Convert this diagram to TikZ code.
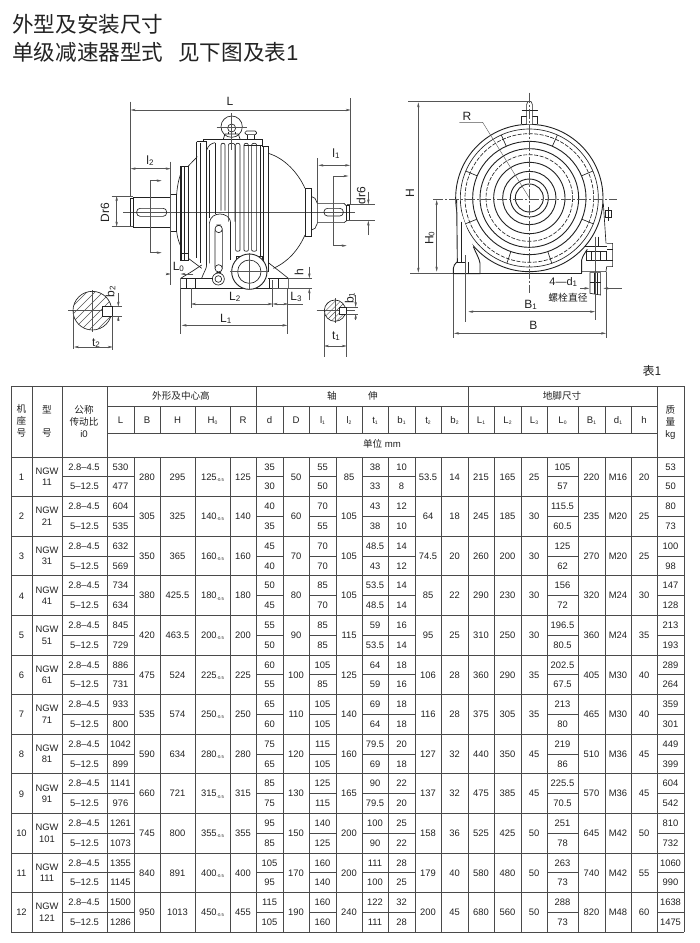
\documentclass[tikz,border=0pt]{standalone}
\usepackage{fontspec}
\setmainfont{Liberation Sans}
\newfontfamily\cjk{Noto Sans CJK SC}
\usetikzlibrary{arrows.meta}
\definecolor{ink}{HTML}{222222}
\definecolor{grid}{HTML}{4A4A4A}
\definecolor{thin}{HTML}{555555}
\newcommand\lowsub[1]{\raisebox{-1.2pt}{\fontsize{5}{5}\selectfont #1}}
\newcommand\tinysub[1]{\raisebox{-1.2pt}{\fontsize{4.2}{5}\selectfont #1}}
\newcommand\dimsub[1]{\raisebox{-1pt}{\fontsize{8}{8}\selectfont #1}}
\newcommand\twocol[4]{%
  \pgfmathsetmacro\xx{(#2+#3)/2}%
  \foreach \v [count=\i] in {#4}{%
    \pgfmathsetmacro\yy{457+(\i-1)*19.8+9.9}%
    \node[cell] (#1-\i) at (\xx,\yy) {\v};}}
\newcommand\onecol[4]{%
  \pgfmathsetmacro\xx{(#2+#3)/2}%
  \foreach \v [count=\i] in {#4}{%
    \pgfmathsetmacro\yy{457+(\i-1)*39.6+19.8}%
    \node[cell] (#1-\i) at (\xx,\yy) {\v};}}
\tikzset{
  cell/.style={inner sep=0pt,text=ink,text depth=0pt,font=\fontsize{9.4}{10}\selectfont},
  hdr/.style={inner sep=0pt,text=ink,text height=7pt,text depth=0pt,font=\fontsize{9.6}{10}\selectfont},
  chdr/.style={inner sep=0pt,text=ink,font=\cjk\fontsize{9.6}{10}\selectfont},
  dimlab/.style={inner sep=0pt,text=ink,text depth=0pt,font=\fontsize{12}{12}\selectfont},
  dimline/.style={draw=thin,line width=.4pt},
  darr/.style={dimline,{Stealth[length=5pt,width=2.4pt]}-{Stealth[length=5pt,width=2.4pt]}},
  oarr/.style={dimline,-{Stealth[length=5pt,width=2.4pt]}},
  body/.style={draw=ink,line width=.65pt},
  bodyh/.style={draw=ink,line width=.9pt},
  centre/.style={draw=thin,line width=.4pt},
  gridl/.style={draw=grid,line width=.8pt},
  titletxt/.style={inner sep=0pt,anchor=west,text=ink,font=\cjk\fontsize{21.6}{22}\selectfont},
}
\begin{document}
\begin{tikzpicture}[x=1pt,y=-1pt]
\useasboundingbox (0,0) rectangle (700,943);
\fill[white] (0,0) rectangle (700,943);
% ---- titles
\node[titletxt] (t1) at (12,24) {外型及安装尺寸};
\node[titletxt] (t2) at (12,52) {单级减速器型式\hspace{15pt}见下图及表{\fontspec{Liberation Sans}1}};
\node[inner sep=0pt,text=ink,font=\cjk\fontsize{12}{12}\selectfont] (t3) at (652,371) {表1};
% ---- table rules
\foreach \x in {11,32,62,107,134,160,195,230,256,283,309,336,362,388,415,441,468,494,521,547,578,605,631,657,684}
  \draw[gridl] (\x,406) -- (\x,932);
\foreach \x in {11,32,62,107,256,468,657,684} \draw[gridl] (\x,386) -- (\x,406);
\draw[gridl] (11,386) -- (684,386);
\draw[gridl] (107,406) -- (657,406);
\draw[gridl] (107,433) -- (657,433);
\foreach \i in {0,...,12}{\pgfmathsetmacro\yy{457+\i*39.6}\draw[gridl] (11,\yy) -- (684,\yy);}
\foreach \i in {0,...,11}{\pgfmathsetmacro\yy{457+\i*39.6+19.8}
  \draw[gridl] (62,\yy) -- (134,\yy);
  \draw[gridl] (256,\yy) -- (283,\yy);
  \draw[gridl] (309,\yy) -- (336,\yy);
  \draw[gridl] (362,\yy) -- (415,\yy);
  \draw[gridl] (547,\yy) -- (578,\yy);
  \draw[gridl] (657,\yy) -- (684,\yy);}
% erase verticals crossing the unit band
\fill[white] (107.5,433.5) rectangle (656.5,456.5);
% ---- table head
\node[chdr,align=center] (h1) at (21.5,421) {机\\[2.2pt]座\\[2.2pt]号};
\node[chdr] (h2a) at (47,410) {型};
\node[chdr] (h2b) at (47,433) {号};
\node[chdr,align=center] (h3) at (84,416) {公称\\[2pt]传动比};
\node[hdr] (h3b) at (84,434) {i0};
\node[chdr] (g1) at (181,396) {外形及中心高};
\node[chdr] (g2a) at (332,396) {轴};
\node[chdr] (g2b) at (373,396) {伸};
\node[chdr] (g3) at (562,396) {地脚尺寸};
\node[chdr,align=center] (h4) at (670.5,416) {质\\[2pt]量};
\node[hdr] (h4b) at (670.5,434) {kg};
\node[hdr] (unit) at (382,444) {{\cjk 单位} mm};
\foreach \nm/\a/\b/\t in {
 cL/107/134/L, cB/134/160/B, cH/160/195/H, cHo/195/230/H\lowsub{0}, cR/230/256/R,
 cd/256/283/d, cD/283/309/D, cla/309/336/l\lowsub{1}, clb/336/362/l\lowsub{2},
 cta/362/388/t\lowsub{1}, cba/388/415/b\lowsub{1}, ctb/415/441/t\lowsub{2}, cbb/441/468/b\lowsub{2},
 cLa/468/494/L\lowsub{1}, cLb/494/521/L\lowsub{2}, cLc/521/547/L\lowsub{3}, cLo/547/578/L\lowsub{0},
 cBa/578/605/B\lowsub{1}, cda/605/631/d\lowsub{1}, ch/631/657/h}{
  \pgfmathsetmacro\xx{(\a+\b)/2}
  \node[hdr] (\nm) at (\xx,419.5) {\t};}
% ---- table body
\foreach \v [count=\i] in {1,...,12}{
  \pgfmathsetmacro\yy{457+(\i-1)*39.6+20}
  \node[cell] (no-\i) at (21.5,\yy) {\v};}
\foreach \v [count=\i] in {11,21,31,41,51,61,71,81,91,101,111,121}{
  \pgfmathsetmacro\yy{457+(\i-1)*39.6+14}
  \pgfmathsetmacro\yz{457+(\i-1)*39.6+25.5}
  \node[cell] (ngw-\i) at (47,\yy) {NGW};
  \node[cell] (ngn-\i) at (47,\yz) {\v};}
\foreach \i in {0,...,11}{
  \pgfmathsetmacro\yy{457+\i*39.6+9.9}
  \pgfmathsetmacro\yz{457+\i*39.6+29.7}
  \node[cell] (ra-\i) at (84,\yy) {2.8--4.5};
  \node[cell] (rb-\i) at (84.5,\yz) {5--12.5};}
\twocol{L}{107}{134}{530,477,604,535,632,569,734,634,845,729,886,731,933,800,1042,899,1141,976,1261,1073,1355,1145,1500,1286}
\onecol{B}{134}{160}{280,305,350,380,420,475,535,590,660,745,840,950}
\onecol{H}{160}{195}{295,325,365,425.5,463.5,524,574,634,721,800,891,1013}
\onecol{HO}{195}{230}{125\tinysub{-0.5},140\tinysub{-0.5},160\tinysub{-0.5},180\tinysub{-0.5},200\tinysub{-0.5},225\tinysub{-0.5},250\tinysub{-0.5},280\tinysub{-0.5},315\tinysub{-0.5},355\tinysub{-0.5},400\tinysub{-0.5},450\tinysub{-0.5}}
\onecol{R}{230}{256}{125,140,160,180,200,225,250,280,315,355,400,455}
\twocol{d}{256}{283}{35,30,40,35,45,40,50,45,55,50,60,55,65,60,75,65,85,75,95,85,105,95,115,105}
\onecol{D}{283}{309}{50,60,70,80,90,100,110,120,130,150,170,190}
\twocol{la}{309}{336}{55,50,70,55,70,70,85,70,85,85,105,85,105,105,115,105,125,115,140,125,160,140,160,160}
\onecol{lb}{336}{362}{85,105,105,105,115,125,140,160,165,200,200,240}
\twocol{ta}{362}{388}{38,33,43,38,48.5,43,53.5,48.5,59,53.5,64,59,69,64,79.5,69,90,79.5,100,90,111,100,122,111}
\twocol{ba}{388}{415}{10,8,12,10,14,12,14,14,16,14,18,16,18,18,20,18,22,20,25,22,28,25,32,28}
\onecol{tb}{415}{441}{53.5,64,74.5,85,95,106,116,127,137,158,179,200}
\onecol{bb}{441}{468}{14,18,20,22,25,28,28,32,32,36,40,45}
\onecol{FLa}{468}{494}{215,245,260,290,310,360,375,440,475,525,580,680}
\onecol{FLb}{494}{521}{165,185,200,230,250,290,305,350,385,425,480,560}
\onecol{FLc}{521}{547}{25,30,30,30,30,35,35,45,45,50,50,50}
\twocol{FLo}{547}{578}{105,57,115.5,60.5,125,62,156,72,196.5,80.5,202.5,67.5,213,80,219,86,225.5,70.5,251,78,263,73,288,73}
\onecol{FBa}{578}{605}{220,235,270,320,360,405,465,510,570,645,740,820}
\onecol{Fda}{605}{631}{M16,M20,M20,M24,M24,M30,M30,M36,M36,M42,M42,M48}
\onecol{Fh}{631}{657}{20,25,25,30,35,40,40,45,45,50,55,60}
\twocol{kg}{657}{684}{53,50,80,73,100,98,147,128,213,193,289,264,359,301,449,399,604,542,810,732,1060,990,1638,1475}
% ---- side view
\begin{scope}[shift={(60,90)},x=.33333pt,y=-.33333pt]
 % centre lines
 \draw[centre] (190,367) -- (885,367);
 \draw[centre] (25,662) -- (160,662);
 \draw[centre] (97,600) -- (97,725);
 \draw[centre] (770,662) -- (885,662);
 \draw[centre] (825,625) -- (825,700);
 % shafts
 \draw[body] (210,325) rectangle (220,410);
 \draw[body] (220,322) rectangle (332,412);
 \draw[body,rounded corners=3.5pt] (230,355) rectangle (320,379);
 \draw[body] (332,313) rectangle (350,425);
 \draw[body] (350,313) .. controls (352,285) and (358,260) .. (365,245);
 \draw[body] (350,425) .. controls (352,445) and (358,460) .. (365,475);
 \draw[body] (362,230) rectangle (385,510);
 \draw[body] (365,228) -- (365,510) (372,228) -- (372,510);
 \draw[body] (362,490) -- (385,490);
 \draw[body] (385,228) -- (412,200);
 \draw[body] (385,505) -- (425,535);
 % main body
 \draw[body] (410,155) -- (410,505) (440,155) -- (440,525) (410,155) -- (440,155);
 \draw[body] (421,158) -- (421,520);
 \draw[body] (430,147) -- (608,147) -- (608,168) -- (625,168) -- (625,190);
 \draw[body] (430,147) -- (430,155);
 \draw[body] (625,190) -- (625,545);
 \draw[body] (610,168) -- (610,540);
 \draw[body] (440,180) .. controls (445,165) and (455,160) .. (465,158);
 \draw[body] (448,180) -- (448,385) (465,160) -- (465,372);
 \foreach \a/\b/\e in {483/495/362,505/525/395,527/540/480,552/565/480,575/590/480}{
   \draw[body] (\a,\e) -- (\a,165) .. controls (\a,158) and (\b,158) .. (\b,165) -- (\b,\e);
   \ifnum\e=480 \draw[body] (\a,\e) .. controls (\a,485) and (\b,485) .. (\b,\e);\fi
 }
 \draw[body] (552,165) -- (608,165);
 \draw[body] (600,165) -- (600,500);
 % right dome and shaft
 \draw[body] (625,190) .. controls (675,205) and (715,250) .. (735,295);
 \draw[body] (735,435) .. controls (715,480) and (685,515) .. (640,535);
 \draw[body] (735,295) rectangle (755,440);
 \draw[body] (755,320) -- (765,325) -- (772,340) -- (772,400) -- (765,415) -- (755,420);
 \draw[body] (772,340) -- (852,340) -- (860,348) -- (860,392) -- (852,398) -- (772,398);
 \draw[body] (860,345) rectangle (868,390);
 \draw[body,rounded corners=3.5pt] (792,355) rectangle (850,378);
 % arched slot cover
 \draw[body] (448,520) -- (448,400) .. controls (450,380) and (465,372) .. (480,372) .. controls (495,372) and (508,380) .. (512,395);
 \draw[body] (510,395) -- (510,510);
 \draw[body,rounded corners=6pt] (465,405) rectangle (487,548);
 \draw[body,fill=white] (476,417) circle [radius=11];
 \draw[body,fill=white] (476,535) circle [radius=11];
 \draw[body,fill=white] (475,567) circle [radius=18];
 \draw[body,fill=white] (475,567) circle [radius=10];
 % base
 \draw[bodyh] (362,595) -- (685,595);
 \draw[body] (362,595) -- (362,565) -- (395,545) -- (425,525);
 \draw[body] (685,595) -- (685,565) -- (660,545) -- (625,518);
 \draw[body] (362,565) -- (460,565);
 \draw[body] (625,565) -- (685,565);
 \draw[body] (405,565) -- (405,595) (378,565) -- (378,595);
 \draw[body] (655,565) -- (655,595) (628,565) -- (628,595);
 \draw[body] (425,565) .. controls (430,550) and (440,535) .. (440,525);
 % boss
 \draw[body,fill=white] (530,500) -- (606,500) -- (606,520) -- (530,520) -- cycle;
 \draw[bodyh,fill=white] (568,545) circle [radius=53];
 \draw[body,fill=white] (568,545) circle [radius=35];
 \draw[centre] (510,545) -- (625,545) (568,490) -- (568,600);
 % lifting eye and plug
 \draw[body] (515,110) circle [radius=32];
 \draw[body] (515,114) circle [radius=12];
 \draw[body] (490,147) -- (495,132) -- (535,132) -- (540,147);
 \draw[body] (505,125) -- (505,132) (525,125) -- (525,132);
 \draw[centre] (470,112) -- (560,112) (515,70) -- (515,180);
 \draw[body,rounded corners=1.5pt] (555,123) rectangle (590,134);
 \draw[body] (562,134) -- (562,147) (584,134) -- (584,147);
 % section arrows
 \draw[oarr] (270,488) -- (270,272) -- (305,272);
 \draw[oarr] (270,488) -- (305,488);
 \draw[oarr] (820,467) -- (820,258) -- (865,258);
 \draw[oarr] (820,467) -- (860,467);
 % extension lines
 \draw[dimline] (212,35) -- (212,322);
 \draw[dimline] (872,25) -- (872,345);
 \draw[dimline] (332,215) -- (332,585);
 \draw[dimline] (773,205) -- (773,340);
 \draw[dimline] (155,318) -- (220,318) (155,410) -- (220,410);
 \draw[dimline] (860,343) -- (945,343) (860,392) -- (945,392);
 \draw[dimline] (362,595) -- (362,732) (682,595) -- (682,732);
 \draw[dimline] (393,595) -- (393,655) (638,570) -- (638,652);
 \draw[dimline] (685,565) -- (755,565) (640,595) -- (755,595);
 % dimensions
 \draw[darr] (212,60) -- (872,60);
 \draw[darr] (212,236) -- (332,236);
 \draw[darr] (775,226) -- (870,226);
 \draw[darr] (170,318) -- (170,410);
 \draw[oarr] (925,305) -- (925,343);
 \draw[oarr] (925,435) -- (925,392);
 \draw[oarr] (318,552) -- (332,552);
 \draw[oarr] (400,552) -- (362,552);
 \draw[oarr] (748,530) -- (748,565);
 \draw[oarr] (748,630) -- (748,595);
 \draw[darr] (393,642) -- (638,642);
 \draw[darr] (638,642) -- (685,642);
 \draw[dimline] (685,642) -- (728,642);
 \draw[darr] (365,706) -- (682,706);
 % left section
 \begin{scope}
  \clip (97,662) circle [radius=58];
  \foreach \k in {-120,-96,...,120}
    \draw[centre] (\k+37,722) -- (\k+157,602);
 \end{scope}
 \draw[body] (97,662) circle [radius=58];
 \draw[body,fill=white] (128,650) rectangle (158,678);
 \draw[dimline] (40,662) -- (40,778) (158,678) -- (158,780);
 \draw[dimline] (158,650) -- (185,650) (158,678) -- (185,678);
 \draw[oarr] (175,610) -- (175,650);
 \draw[oarr] (175,692) -- (175,678);
 \draw[darr] (42,771) -- (158,771);
 % right section
 \begin{scope}
  \clip (825,662) circle [radius=32];
  \foreach \k in {-60,-44,...,60}
    \draw[centre] (\k+785,702) -- (\k+865,622);
 \end{scope}
 \draw[body] (825,662) circle [radius=32];
 \draw[body,fill=white] (838,651) rectangle (860,672);
 \draw[dimline] (792,665) -- (792,800) (860,672) -- (860,800);
 \draw[dimline] (860,651) -- (895,651) (860,672) -- (895,672);
 \draw[oarr] (887,615) -- (887,651);
 \draw[oarr] (887,690) -- (887,672);
 \draw[darr] (792,768) -- (860,768);
 % labels
 \node[dimlab] (lL) at (510,34) {L};
 \node[dimlab] (ll2) at (270,211) {l\dimsub{2}};
 \node[dimlab] (ll1) at (828,190) {l\dimsub{1}};
 \node[dimlab,rotate=90] (lDr) at (135,368) {Dr6};
 \node[dimlab,rotate=90] (ldr) at (903,316) {dr6};
 \node[dimlab] (lLo) at (355,530) {L\dimsub{0}};
 \node[dimlab,rotate=90] (lh) at (717,545) {h};
 \node[dimlab] (lL2) at (524,618) {L\dimsub{2}};
 \node[dimlab] (lL3) at (708,620) {L\dimsub{3}};
 \node[dimlab] (lL1) at (497,684) {L\dimsub{1}};
 \node[dimlab] (lt2) at (108,758) {t\dimsub{2}};
 \node[dimlab] (lt1) at (828,738) {t\dimsub{1}};
 \node[dimlab,rotate=90] (lb2) at (150,605) {b\dimsub{2}};
 \node[dimlab,rotate=90] (lb1) at (868,625) {b\dimsub{1}};
\end{scope}
% ---- front view
\begin{scope}[shift={(390,90)},x=.33333pt,y=-.33333pt]
 \draw[bodyh] (418,324) circle [radius=221];
 \draw[body] (418,324) circle [radius=207];
 \draw[body,dash pattern=on 4pt off 1.5pt] (418,324) circle [radius=193];
 \draw[bodyh] (418,324) circle [radius=170];
 \draw[bodyh] (418,324) circle [radius=148];
 \draw[body,dash pattern=on 4pt off 1.5pt] (418,324) circle [radius=130];
 \draw[bodyh] (418,324) circle [radius=107];
 \draw[bodyh] (418,324) circle [radius=80];
 \draw[bodyh] (418,324) circle [radius=57];
 \draw[bodyh] (418,324) circle [radius=42];
 \foreach \ang in {22,71,109,158,203,246,294,337}{
   \draw[body] (418,324) ++(\ang:170) -- ++(\ang:37);
 }
 % feet and sides
 \draw[bodyh,fill=white] (200,330) -- (202,515) .. controls (195,520) and (190,528) .. (190,535) -- (190,551) -- (270,551) -- (270,520) .. controls (268,505) and (258,490) .. (250,470);
 \draw[body] (213,395) -- (213,520) (202,517) -- (228,517);
 \draw[body] (225,495) -- (225,550) (235,517) -- (235,550);
 \draw[bodyh] (270,549) -- (575,549);
 \draw[bodyh] (575,549) -- (575,510) .. controls (577,500) and (585,488) .. (592,478);
 \draw[body] (640,340) -- (648,460);
 \draw[body] (625,440) -- (625,470);
 \draw[body,fill=white] (590,485) rectangle (650,510);
 \draw[body] (605,485) -- (605,510) (632,485) -- (632,510);
 \draw[body] (585,470) -- (650,470);
 \draw[body] (650,460) -- (668,460) -- (668,530) -- (650,530) -- (648,545) -- (575,545);
 \draw[body] (668,478) -- (650,478) (668,512) -- (650,512);
 \draw[body] (645,360) rectangle (665,383);
 \draw[body] (655,350) -- (655,392);
 \draw[body,fill=white] (600,548) -- (600,610) -- (632,615) -- (632,548) -- cycle;
 \draw[body] (612,548) -- (612,612) (622,548) -- (622,612);
 \draw[body] (600,578) -- (632,578);
 % bolt on top
 \draw[body] (393,103) -- (393,80) -- (443,80) -- (443,103);
 \draw[body,fill=white] (410,103) -- (410,44) .. controls (410,30) and (427,30) .. (427,44) -- (427,103);
 \draw[body] (395,60) -- (445,60);
 % centre lines
 \draw[centre,dash pattern=on 10pt off 2pt on 2pt off 2pt] (130,328) -- (680,328);
 \draw[centre,dash pattern=on 10pt off 2pt on 2pt off 2pt] (419,8) -- (419,610);
 % leader R
 \draw[dimline] (208,97) -- (278,97) -- (418,324);
 % extensions
 \draw[dimline] (55,35) -- (420,35);
 \draw[dimline] (60,551) -- (190,551);
 \draw[dimline] (225,495) -- (225,695) (615,440) -- (615,690);
 \draw[dimline] (190,551) -- (190,745) (648,545) -- (648,745);
 % dims
 \draw[darr] (85,37) -- (85,548);
 \draw[darr] (140,330) -- (140,545);
 \draw[darr] (235,665) -- (615,665);
 \draw[darr] (192,730) -- (648,730);
 \draw[oarr] (570,595) -- (598,595);
 \draw[oarr] (695,595) -- (640,595);
 % labels
 \node[dimlab] (rR) at (231,78) {R};
 \node[dimlab,rotate=90] (rH) at (60,308) {H};
 \node[dimlab,rotate=90] (rHo) at (118,445) {H\dimsub{0}};
 \node[dimlab,font=\fontsize{11}{11}\selectfont] (r4d) at (520,575) {4---d\dimsub{1}};
 \node[inner sep=0pt,text=ink,font=\cjk\fontsize{9.8}{10}\selectfont] (rbolt) at (534,623) {螺栓直径};
 \node[dimlab] (rB1) at (422,642) {B\dimsub{1}};
 \node[dimlab] (rB) at (430,705) {B};
\end{scope}
\end{tikzpicture}
\end{document}
